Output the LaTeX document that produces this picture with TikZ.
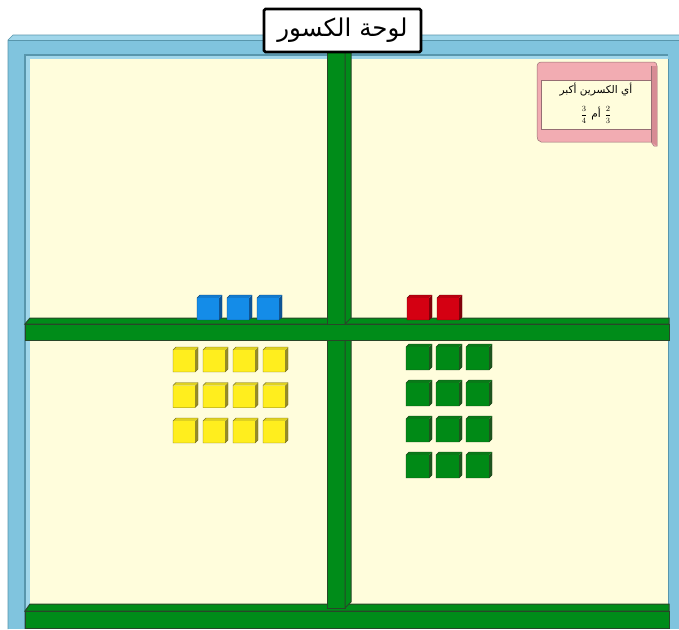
\documentclass[tikz,border=0pt]{standalone}
\usepackage{fontspec}
\newfontfamily\arabicfont[Script=Arabic]{DejaVu Sans}
\TeXXeTstate=1
\definecolor{framebl}{RGB}{128,196,222}
\definecolor{framebldk}{RGB}{88,150,172}
\definecolor{framebllt}{RGB}{160,214,234}
\definecolor{cream}{RGB}{255,253,220}
\definecolor{shelfg}{RGB}{0,140,25}
\definecolor{shelfdk}{RGB}{40,70,40}
\definecolor{pinkc}{RGB}{242,172,178}
\definecolor{pinkdk}{RGB}{215,140,148}
\definecolor{pinkln}{RGB}{150,110,115}
\definecolor{cbl}{RGB}{20,140,232}
\definecolor{cbldk}{RGB}{15,85,150}
\definecolor{crd}{RGB}{212,0,18}
\definecolor{crddk}{RGB}{130,0,10}
\definecolor{cyl}{RGB}{255,238,30}
\definecolor{cyldk}{RGB}{150,140,40}
\definecolor{cgr}{RGB}{0,138,22}
\definecolor{cgrdk}{RGB}{30,85,30}
\tikzset{
  shelf/.style={fill=shelfg,draw=shelfdk,line width=1pt},
  titlebox/.style={draw=black,line width=2.6pt,rounded corners=1.5pt,fill=white,minimum width=157pt,minimum height=43pt,inner sep=0pt,font=\arabicfont\fontsize{24.5}{28}\selectfont},
  cardtext/.style={inner sep=0pt,font=\arabicfont\fontsize{10.5}{12}\selectfont}
}
% #1 x, #2 y, #3 w, #4 face colour, #5 side colour
\newcommand\mycube[5]{%
  \fill[#5] (#1+#3-3,#2+3) -- (#1+#3,#2) -- (#1+#3,#2+#3-3) -- (#1+#3-3,#2+#3) -- cycle;
  \fill[#4!70!#5] (#1,#2+3) -- (#1+3,#2) -- (#1+#3,#2) -- (#1+#3-3,#2+3) -- cycle;
  \fill[#4] (#1,#2+3) rectangle (#1+#3-3,#2+#3);
  \draw[#5!80!black,line width=0.4pt] (#1,#2+3) -- (#1+3,#2) -- (#1+#3,#2) -- (#1+#3,#2+#3-3) -- (#1+#3-3,#2+#3) -- (#1,#2+#3) -- cycle;
}
\newcommand\myfrac[2]{\hbox{\fontsize{8.5}{10}\selectfont$\displaystyle\frac{#1}{#2}$}}
\begin{document}
\begin{tikzpicture}[x=1pt,y=-1pt]
\useasboundingbox (0,0) rectangle (679,629);
\fill[white] (0,0) rectangle (679,629);
% frame
\fill[framebl] (8,40) rectangle (679,629);
\fill[framebllt] (8,40) -- (13,35) -- (679,35) -- (679,40) -- cycle;
\draw[framebldk,line width=0.6pt] (8,629) -- (8,40) -- (13,35) -- (679,35);
\draw[framebldk,line width=0.6pt] (8,40) -- (679,40);
\fill[framebldk] (24,54) rectangle (668,629);
\fill[framebllt] (25.5,55.5) rectangle (668,629);
\fill[cream] (30,59) rectangle (668,629);
\draw[framebldk,line width=0.6pt] (668,59) -- (668,629);
% shelf bevels
\filldraw[shelf] (25,324) -- (30,318) -- (669,318) -- (669,324) -- cycle;
\filldraw[shelf] (25,611) -- (30,604) -- (669,604) -- (669,611) -- cycle;
% posts
\filldraw[shelf] (327,50) rectangle (345,324);
\filldraw[shelf] (345,50) -- (351,50) -- (351,318) -- (345,324) -- cycle;
\filldraw[shelf] (327,340) rectangle (345,608);
\filldraw[shelf] (345,340) -- (351,340) -- (351,602) -- (345,608) -- cycle;
% shelf fronts
\filldraw[shelf] (25,324) rectangle (669,340);
\filldraw[shelf] (25,611) rectangle (669,628);
% title
\node[titlebox] (title) at (342.5,30.5) {\beginR لوحة الكسور\endR};
% card (scroll)
\filldraw[fill=pinkc,draw=pinkln,line width=0.5pt] (541,62) -- (654,62) to[out=0,in=90] (657,66) -- (657,146) -- (654,146) -- (651,142) -- (541,142) to[out=180,in=-90] (537,136) -- (537,66) to[out=90,in=180] (541,62) -- cycle;
\fill[pinkdk] (651,66) -- (657,66) -- (657,146) -- (651,142) -- cycle;
\filldraw[fill=cream,draw=pinkln,line width=0.5pt] (541,80) rectangle (651,129);
\draw[pinkln,line width=0.5pt] (651,66) -- (651,142);
\node[cardtext] (q1) at (596,90) {\beginR أي الكسرين أكبر\endR};
\node[cardtext] (q2) at (596,115) {\beginR\myfrac{2}{3}\hspace{4pt}أم\hspace{4pt}\myfrac{3}{4}\endR};
% blue cubes
\foreach \x in {197,227,257} {\mycube{\x}{295}{25}{cbl}{cbldk}}
% red cubes
\foreach \x in {407,437} {\mycube{\x}{295}{25}{crd}{crddk}}
% yellow cubes
\foreach \y in {347,382.5,418} {\foreach \x in {173,203,233,263} {\mycube{\x}{\y}{25}{cyl}{cyldk}}}
% green cubes
\foreach \y in {344,380,416,452} {\foreach \x in {406,436,466} {\mycube{\x}{\y}{26}{cgr}{cgrdk}}}
\end{tikzpicture}
\end{document}
